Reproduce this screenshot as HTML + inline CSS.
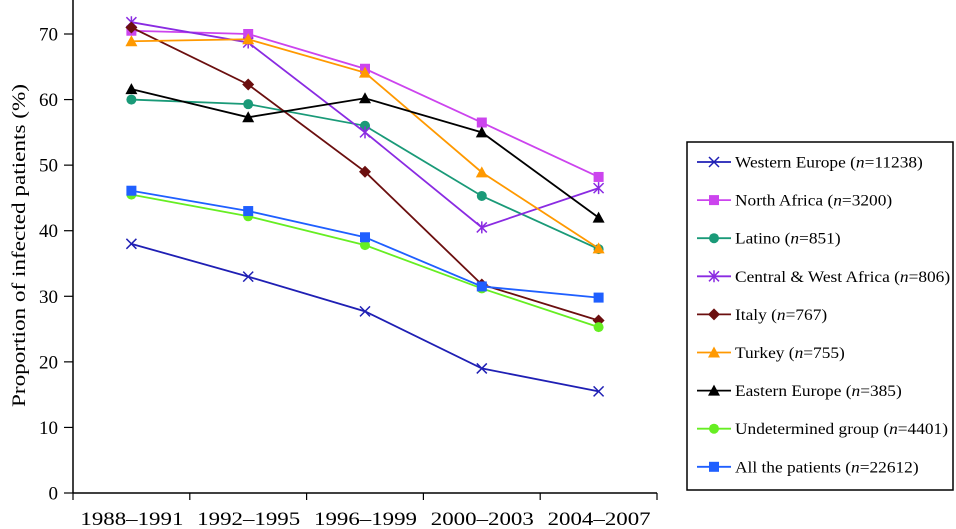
<!DOCTYPE html>
<html><head><meta charset="utf-8"><style>
body{margin:0;background:#fff}
svg{display:block;font-family:"Liberation Serif",serif}
</style></head><body>
<svg id="chart" width="956" height="529" viewBox="0 0 956 529" xmlns="http://www.w3.org/2000/svg">
<g id="axes"></g>
<g id="series"></g>
<g id="legend"></g>
</svg>
<script>
const categories=["1988–1991","1992–1995","1996–1999","2000–2003","2004–2007"];
const yTicks=[0,10,20,30,40,50,60,70];
const names=["Western Europe","North Africa","Latino","Central & West Africa","Italy","Turkey","Eastern Europe","Undetermined group","All  the patients"];
const counts=["11238","3200","851","806","767","755","385","4401","22612"];
const westernEurope=[38,33,27.7,19,15.5];
const northAfrica=[70.5,70,64.7,56.5,48.2];
const latino=[60,59.3,56,45.3,37.2];
const centralWestAfrica=[71.8,68.7,55,40.5,46.5];
const italy=[71,62.3,49,31.8,26.3];
const turkey=[68.9,69.2,64.1,48.9,37.3];
const easternEurope=[61.6,57.3,60.2,55,42];
const undetermined=[45.5,42.2,37.8,31.2,25.3];
const allPatients=[46.1,43,39,31.5,29.8];
const seriesData=[westernEurope,northAfrica,latino,centralWestAfrica,italy,turkey,easternEurope,undetermined,allPatients];
const colors=["#1f1fb4","#cc44ee","#1a9a78","#8a2be2","#6b0f0f","#ff9900","#000000","#66ee22","#1f5fff"];
const markers=["x","square","circle","star","diamond","triangle","triangle","circle","square"];

const NS="http://www.w3.org/2000/svg";
const X0=73,X1=657,Y0=493,Y70=34;
const band=(X1-X0)/categories.length;
const xs=i=>X0+band*(i+0.5);
const ys=v=>Y0-(Y0-Y70)*v/70;
function mk(tag,attrs,parent){const e=document.createElementNS(NS,tag);for(const k in attrs)e.setAttribute(k,attrs[k]);parent.appendChild(e);return e;}
const axes=document.getElementById('axes');
let l=mk('line',{x1:X0,y1:Y0,x2:X1,y2:Y0,stroke:'#000','stroke-width':1.5},axes);


l=mk('line',{x1:X0,y1:Y0,x2:X0,y2:0,stroke:'#000','stroke-width':1.5},axes);


yTicks.forEach(v=>{
 mk('line',{x1:X0-9,y1:ys(v),x2:X0,y2:ys(v),stroke:'#000','stroke-width':1.2},axes);
 const t=mk('text',{x:X0-15,y:ys(v)+6.5,'text-anchor':'end','font-size':19},axes);t.textContent=v;
 
 
});
for(let i=0;i<=categories.length;i++){mk('line',{x1:X0+band*i,y1:Y0,x2:X0+band*i,y2:Y0+7,stroke:'#000','stroke-width':1.2},axes);}
categories.forEach((c,i)=>{const t=mk('text',{x:xs(i)-51,y:525,'font-size':19,textLength:103,lengthAdjust:'spacingAndGlyphs'},axes);t.textContent=c;
 
 });
const yt=mk('text',{x:-161,y:0,'font-size':19,textLength:323,lengthAdjust:'spacingAndGlyphs',transform:'translate(25,246) rotate(-90)'},axes);
yt.textContent="Proportion of infected patients (%)";



function marker(type,x,y,c,p){
 const s=5;
 if(type==='x'){mk('path',{d:`M${x-s} ${y-s}L${x+s} ${y+s}M${x-s} ${y+s}L${x+s} ${y-s}`,stroke:c,'stroke-width':1.5,fill:'none'},p);}
 else if(type==='star'){mk('path',{d:`M${x-s} ${y-s}L${x+s} ${y+s}M${x-s} ${y+s}L${x+s} ${y-s}M${x} ${y-s-1}L${x} ${y+s+1}`,stroke:c,'stroke-width':1.5,fill:'none'},p);}
 else if(type==='square'){mk('rect',{x:x-s,y:y-s,width:2*s,height:2*s,fill:c},p);}
 else if(type==='circle'){mk('circle',{cx:x,cy:y,r:s,fill:c},p);}
 else if(type==='diamond'){mk('path',{d:`M${x} ${y-6}L${x+6} ${y}L${x} ${y+6}L${x-6} ${y}Z`,fill:c},p);}
 else if(type==='triangle'){mk('path',{d:`M${x} ${y-6}L${x+6} ${y+5}L${x-6} ${y+5}Z`,fill:c},p);}
}
const sg=document.getElementById('series');
seriesData.forEach((d,k)=>{
 const g=mk('g',{},sg);
 
 
 mk('polyline',{points:d.map((v,i)=>xs(i)+','+ys(v)).join(' '),fill:'none',stroke:colors[k],'stroke-width':1.8},g);
 d.forEach((v,i)=>marker(markers[k],xs(i),ys(v),colors[k],g));
});
const lg=document.getElementById('legend');
const box=mk('rect',{x:687,y:142,width:266,height:348,fill:'#fff',stroke:'#000','stroke-width':1.5},lg);


names.forEach((n,k)=>{
 const y=162+38.1*k;
 const g=mk('g',{},lg);
 
 
 mk('line',{x1:697,y1:y,x2:731,y2:y,stroke:colors[k],'stroke-width':1.8},g);
 marker(markers[k],714,y,colors[k],g);
 const t=mk('text',{x:0,y:0,'font-size':15.5,transform:`translate(735,${y+5.5}) scale(1.12,1)`},g);
 t.innerHTML=n+' (<tspan font-style="italic">n</tspan>='+counts[k]+')';
});
</script>
</body></html>
